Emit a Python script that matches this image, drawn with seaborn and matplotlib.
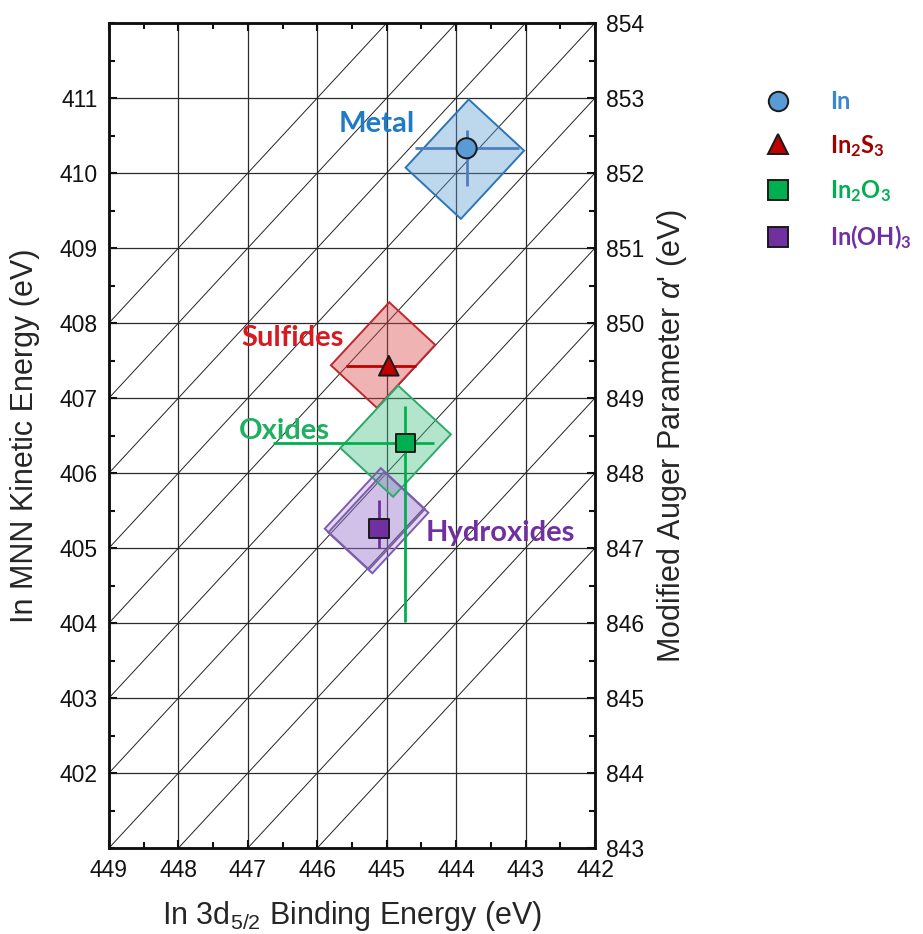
import numpy as np
import pandas as pd
import matplotlib
matplotlib.use("Agg")
import matplotlib.pyplot as plt
from matplotlib.patches import Polygon
from matplotlib.lines import Line2D
from matplotlib.ticker import MultipleLocator
import seaborn as sns

# ---- reference compounds: In 3d5/2 binding energy and In MNN kinetic energy (eV)
phases = ["In", "In2S3", "In2O3", "In(OH)3"]
phase_labels = ["In", r"In$_\mathbf{2}$S$_\mathbf{3}$", r"In$_\mathbf{2}$O$_\mathbf{3}$",
                r"In(OH)$_\mathbf{3}$"]
binding_energy = [443.85, 444.97, 444.73, 445.11]
kinetic_energy = [410.33, 407.43, 406.40, 405.26]
be_err_low = [0.75, 0.39, 0.41, 0.0]    # towards lower binding energy
be_err_high = [0.74, 0.62, 1.91, 0.0]   # towards higher binding energy
ke_err_low = [0.50, 0.0, 2.39, 0.26]
ke_err_high = [0.24, 0.0, 0.49, 0.38]

# ---- chemical-state regions: Auger parameter range and (KE - BE) range along it
region_names = ["Metal", "Sulfides", "Oxides", "Hydroxides", "Hydroxides"]
region_alpha_lo = [853.32, 852.01, 850.59, 849.87, 849.97]
region_alpha_hi = [854.80, 853.24, 852.00, 851.05, 851.15]
region_diff_lo = [-34.60, -38.32, -39.28, -40.59, -40.59]
region_diff_hi = [-32.78, -36.64, -37.615, -38.975, -38.975]

# ---- axis ranges and iso-Auger-parameter lines
be_ticks = list(range(449, 441, -1))
ke_ticks = list(range(402, 412))
alpha_ticks = list(range(843, 855))
alpha_lines = list(range(847, 858))

marker_map = {"In": "o", "In2S3": "^", "In2O3": "s", "In(OH)3": "s"}
marker_size = {"In": 210, "In2S3": 200, "In2O3": 185, "In(OH)3": 200}
marker_color = {"In": "#5B9BD5", "In2S3": "#C00000", "In2O3": "#00B050", "In(OH)3": "#7030A0"}
bar_color = {"In": "#4F7FC0", "In2S3": "#C00000", "In2O3": "#00B050", "In(OH)3": "#7030A0"}
legend_text_color = ["#3A87CF", "#A00000", "#00B050", "#7030A0"]

region_face = {"Metal": "#5C9BD4", "Sulfides": "#D94343", "Oxides": "#43C082", "Hydroxides": "#9B75CD"}
region_edge = {"Metal": "#2E75B6", "Sulfides": "#C0282D", "Oxides": "#2EAA6A", "Hydroxides": "#7E5DB0"}
region_alpha = {"Metal": 0.40, "Sulfides": 0.40, "Oxides": 0.40, "Hydroxides": 0.26}
label_color = {"Metal": "#1F7BC6", "Sulfides": "#D71920", "Oxides": "#1DB060", "Hydroxides": "#7030A0"}
label_pos = {"Metal": (445.14, 410.65), "Sulfides": (446.36, 407.80),
             "Oxides": (446.47, 406.56), "Hydroxides": (443.37, 405.20)}

sns.set_theme(style="ticks")
plt.rcParams["font.family"] = ["Liberation Sans", "DejaVu Sans"]
plt.rcParams["mathtext.fontset"] = "custom"
plt.rcParams["mathtext.rm"] = "Liberation Sans"
plt.rcParams["mathtext.it"] = "Liberation Sans:italic"
plt.rcParams["mathtext.bf"] = "Lato:bold"

fig = plt.figure(figsize=(9.23, 9.34), dpi=100)
ax = fig.add_axes([109 / 923, 1 - 848 / 934, 486 / 923, 825 / 934])
ax.set_xlim(449, 442)
ax.set_ylim(401, 412)

# grid and diagonal lines of constant modified Auger parameter
ax.set_xticks(be_ticks)
ax.set_yticks(ke_ticks)
ax.grid(True, which="major", color="#2b2b2b", lw=0.9, zorder=0)
be_span = np.array([449.0, 442.0])
for a in alpha_lines:
    ax.plot(be_span, a - be_span, color="#222222", lw=0.7, zorder=1)


def region_corners(a_lo, a_hi, d_lo, d_hi):
    """Rectangle between two iso-alpha lines, with ends square on screen."""
    a_mid = 0.5 * (a_lo + a_hi)
    d_mid = 0.5 * (d_lo + d_hi)
    to_data = lambda a, d: ((a - d) / 2.0, (a + d) / 2.0)
    T = ax.transData
    p_top = T.transform(to_data(a_mid, d_hi))
    p_bot = T.transform(to_data(a_mid, d_lo))
    u = p_top - p_bot
    u /= np.hypot(*u)
    n = np.array([u[1], -u[0]])
    q = T.transform(to_data(a_hi, d_mid)) - T.transform(to_data(a_lo, d_mid))
    hw = abs(np.dot(q, n)) / 2.0
    pts = np.array([p_top + n * hw, p_top - n * hw, p_bot - n * hw, p_bot + n * hw])
    return T.inverted().transform(pts)


for name, alo, ahi, dlo, dhi in zip(region_names, region_alpha_lo, region_alpha_hi,
                                    region_diff_lo, region_diff_hi):
    corners = region_corners(alo, ahi, dlo, dhi)
    ax.add_patch(Polygon(corners, closed=True, facecolor=region_face[name],
                         alpha=region_alpha[name], edgecolor="none", zorder=2))
    ax.add_patch(Polygon(corners, closed=True, facecolor="none",
                         edgecolor=region_edge[name], lw=1.4, zorder=2.5))

for name, (x, y) in label_pos.items():
    ax.text(x, y, name, color=label_color[name], fontsize=21, fontweight="bold",
            family="Lato", ha="center", va="center", zorder=6)

# error bars
for i, ph in enumerate(phases):
    xerr = [[be_err_low[i]], [be_err_high[i]]]
    yerr = [[ke_err_low[i]], [ke_err_high[i]]]
    ax.errorbar([binding_energy[i]], [kinetic_energy[i]], xerr=xerr, yerr=yerr,
                fmt="none", ecolor=bar_color[ph], elinewidth=2.0, capsize=0, zorder=3)

df = pd.DataFrame({"phase": phases, "be": binding_energy, "ke": kinetic_energy})
sns.scatterplot(data=df, x="be", y="ke", hue="phase", style="phase", size="phase",
                palette=marker_color, markers=marker_map, sizes=marker_size,
                edgecolor="#1a1a1a", linewidth=1.4, legend=False, ax=ax, zorder=5)

ax.set_xlabel(r"In 3d$_{\mathrm{5/2}}$ Binding Energy (eV)", fontsize=22, labelpad=12)
ax.set_ylabel("In MNN Kinetic Energy (eV)", fontsize=22, labelpad=14)
ax.xaxis.set_minor_locator(MultipleLocator(0.5))
ax.yaxis.set_minor_locator(MultipleLocator(0.5))
ax.tick_params(which="both", direction="in", top=True, right=False, width=1.5,
               color="#111111", labelsize=16.5, labelcolor="#111111")
ax.tick_params(which="major", length=6, pad=8)
ax.tick_params(which="minor", length=4)

ax2 = ax.twinx()
ax2.set_ylim(843, 854)
ax2.set_yticks(alpha_ticks)
ax2.yaxis.set_minor_locator(MultipleLocator(0.5))
ax2.grid(False)
ax2.tick_params(which="both", direction="in", width=1.5, color="#111111",
                labelsize=16.5, labelcolor="#111111")
ax2.tick_params(which="major", length=6, pad=8)
ax2.tick_params(which="minor", length=4)
ax2.set_ylabel(r"Modified Auger Parameter $\alpha$' (eV)", fontsize=22, labelpad=8)

for a in (ax, ax2):
    for sp in a.spines.values():
        sp.set_linewidth(1.8)
        sp.set_color("#111111")

handles = [Line2D([], [], ls="none", marker=marker_map[ph], markersize=14,
                  markerfacecolor=marker_color[ph], markeredgecolor="#1a1a1a",
                  markeredgewidth=1.4) for ph in phases]
leg = fig.legend(handles, phase_labels, loc="upper left", bbox_to_anchor=(0.807, 0.926),
                 frameon=False, prop={"family": "Lato", "weight": "bold", "size": 17},
                 handletextpad=1.7, labelspacing=0.82, handlelength=1.0)
for txt, c in zip(leg.get_texts(), legend_text_color):
    txt.set_color(c)

fig.savefig("out.png", dpi=100)
